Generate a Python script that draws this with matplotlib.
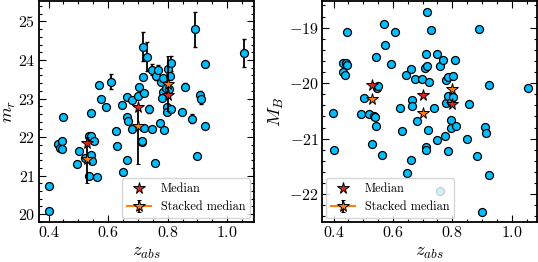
import numpy as np
import matplotlib
matplotlib.use("Agg")
import matplotlib.pyplot as plt
from matplotlib.ticker import MultipleLocator

plt.rcParams['font.family'] = 'serif'
plt.rcParams['font.serif'] = ['cmr10']
plt.rcParams['mathtext.fontset'] = 'cm'
plt.rcParams['axes.formatter.use_mathtext'] = True

# ---- Left panel data: z_abs vs m_r ----
z_left = [0.400, 0.403, 0.433, 0.437, 0.444, 0.444, 0.450, 0.494, 0.503, 0.524,
          0.536, 0.542, 0.542, 0.547, 0.536, 0.552, 0.544, 0.564, 0.570, 0.576,
          0.594, 0.610, 0.628, 0.630, 0.647, 0.649, 0.662, 0.664, 0.667, 0.663,
          0.679, 0.681, 0.700, 0.704, 0.714, 0.714, 0.717, 0.717, 0.720, 0.720,
          0.731, 0.738, 0.747, 0.749, 0.756, 0.761, 0.769, 0.776, 0.779, 0.783,
          0.784, 0.781, 0.787, 0.796, 0.797, 0.798, 0.802, 0.806, 0.807, 0.810,
          0.811, 0.847, 0.857, 0.883, 0.892, 0.900, 0.909, 0.912, 0.924, 0.924,
          1.057]
m_r = [20.73, 20.08, 21.83, 21.72, 21.90, 21.68, 22.52, 21.30, 21.63, 21.47,
       22.02, 22.02, 21.54, 21.37, 20.98, 21.90, 22.63, 20.97, 23.36, 23.00,
       22.78, 23.44, 22.15, 21.76, 22.84, 21.09, 23.05, 22.52, 22.41, 21.41,
       22.96, 22.20, 23.06, 23.29, 21.87, 21.91, 23.56, 24.35, 23.14, 22.24,
       24.09, 22.73, 23.75, 22.20, 21.33, 23.59, 23.75, 22.36, 23.42, 23.17,
       23.53, 23.02, 22.19, 23.28, 22.78, 22.66, 23.77, 23.25, 23.59, 23.91,
       22.72, 22.66, 23.31, 22.48, 24.80, 21.52, 23.09, 22.99, 23.89, 22.28,
       24.18]
m_r_err = [0, 0, 0, 0, 0, 0, 0, 0, 0, 0,
           0, 0, 0, 0, 0, 0, 0, 0, 0, 0,
           0, 0.20, 0.06, 0, 0, 0, 0.08, 0, 0, 0,
           0, 0, 0, 0, 0, 0, 0.08, 0.37, 0, 0,
           0.37, 0.10, 0.15, 0, 0, 0.10, 0.12, 0, 0.08, 0,
           0, 0, 0, 0.06, 0, 0, 0, 0, 0.10, 0.20,
           0, 0, 0.10, 0.12, 0.45, 0, 0.10, 0.12, 0, 0,
           0.37]

# ---- Right panel data: z_abs vs M_B ----
z_right = [0.398, 0.400, 0.432, 0.442, 0.445, 0.433, 0.440, 0.447, 0.501, 0.492,
           0.521, 0.530, 0.537, 0.540, 0.543, 0.542, 0.546, 0.549, 0.563, 0.569,
           0.574, 0.593, 0.608, 0.625, 0.630, 0.644, 0.662, 0.663, 0.665, 0.662,
           0.648, 0.676, 0.681, 0.699, 0.707, 0.714, 0.712, 0.716, 0.721, 0.728,
           0.711, 0.712, 0.719, 0.737, 0.747, 0.748, 0.759, 0.767, 0.775, 0.778,
           0.780, 0.784, 0.786, 0.786, 0.794, 0.796, 0.796, 0.803, 0.804, 0.810,
           0.813, 0.848, 0.856, 0.883, 0.890, 0.899, 0.911, 0.912, 0.922, 0.922,
           1.055, 0.757]
M_B = [-20.53, -21.21, -19.64, -19.64, -19.67, -19.79, -19.85, -19.07, -20.27, -20.55,
       -20.55, -21.10, -20.59, -20.61, -20.77, -19.52, -20.09, -20.05, -21.30, -18.93,
       -19.32, -19.65, -19.08, -20.45, -20.87, -19.86, -19.75, -20.30, -20.41, -21.39,
       -21.62, -19.93, -20.69, -19.92, -19.72, -19.69, -19.48, -18.72, -19.97, -19.04,
       -21.15, -21.20, -20.85, -20.44, -19.47, -21.03, -19.69, -19.58, -20.96, -20.35,
       -19.95, -20.23, -19.88, -21.23, -20.34, -20.66, -20.80, -19.87, -20.25, -19.58,
       -20.77, -21.00, -20.38, -21.31, -19.02, -22.32, -20.79, -20.89, -20.04, -21.65,
       -20.08, -21.94]

# ---- Medians ----
z_med = [0.53, 0.70, 0.80]
m_r_median = [21.84, 22.78, 23.08]
m_r_stacked = [21.42, 22.28, 23.38]
m_r_stacked_err_lo = [0.62, 0.97, 0.69]
m_r_stacked_err_hi = [0.58, 0.50, 0.73]
M_B_median = [-20.03, -20.21, -20.38]
M_B_stacked = [-20.28, -20.54, -20.10]

blue = '#00BFFF'
red = '#d62728'
orange = '#ff7f0e'

fig = plt.figure(figsize=(5.38, 2.62), dpi=100)
axL = fig.add_axes([0.072, 0.153, 0.400, 0.843])
axR = fig.add_axes([0.599, 0.153, 0.399, 0.843])


def style(ax):
    ax.tick_params(which='both', direction='in', top=True, right=True,
                   labelsize=11.5, width=0.8, pad=2.5)
    ax.tick_params(which='major', length=5)
    ax.tick_params(which='minor', length=2.5)
    ax.xaxis.set_major_locator(MultipleLocator(0.2))
    ax.xaxis.set_minor_locator(MultipleLocator(0.05))
    ax.yaxis.set_major_locator(MultipleLocator(1))
    ax.yaxis.set_minor_locator(MultipleLocator(0.2))
    for s in ax.spines.values():
        s.set_linewidth(1.3)


MS_STAR = 8.5
# Left panel
axL.errorbar(z_left, m_r, yerr=m_r_err, fmt='none', ecolor='k', elinewidth=1.3,
             capsize=1.5, capthick=1.0, zorder=2)
axL.scatter(z_left, m_r, s=33, c=blue, edgecolors='k', linewidths=0.9, zorder=3)
axL.errorbar(z_med, m_r_stacked, yerr=[m_r_stacked_err_lo, m_r_stacked_err_hi],
             fmt='*', color=orange, mec='k', mew=0.7, ms=MS_STAR, ecolor='k',
             elinewidth=1.3, capsize=1.5, zorder=4)
axL.plot(z_med, m_r_median, '*', color=red, mec='k', mew=0.7, ms=MS_STAR, zorder=5)
# legend handles
hM, = axL.plot([np.nan], [np.nan], '*', color=red, mec='k', mew=0.7, ms=MS_STAR, label='Median')
hS = axL.errorbar([np.nan], [np.nan], yerr=[1], fmt='*-', color=orange, mec='k',
                  mew=0.7, ms=MS_STAR, ecolor='k', elinewidth=1.3, capsize=1.5,
                  label='Stacked median')
axL.legend(handles=[hM, hS], loc='lower right', fontsize=8.8, handlelength=2.0,
           borderaxespad=0.3, handletextpad=0.8)
axL.set_xlim(0.367, 1.09)
axL.set_ylim(19.80, 25.53)
axL.set_xlabel(r'$z_{abs}$', fontsize=13.5, labelpad=2)
axL.set_ylabel(r'$m_r$', fontsize=13)
axL.yaxis.set_label_coords(-0.095, 0.5)
style(axL)

# Right panel
axR.scatter(z_right, M_B, s=33, c=blue, edgecolors='k', linewidths=0.9, zorder=3)
axR.plot(z_med, M_B_stacked, '*', color=orange, mec='k', mew=0.7, ms=MS_STAR, zorder=4)
axR.plot(z_med, M_B_median, '*', color=red, mec='k', mew=0.7, ms=MS_STAR, zorder=5)
hM2, = axR.plot([np.nan], [np.nan], '*', color=red, mec='k', mew=0.7, ms=MS_STAR, label='Median')
hS2 = axR.errorbar([np.nan], [np.nan], yerr=[1], fmt='*-', color=orange, mec='k',
                   mew=0.7, ms=MS_STAR, ecolor='k', elinewidth=1.3, capsize=1.5,
                   label='Stacked median')
lg = axR.legend(handles=[hM2, hS2], loc='lower left', fontsize=8.8, handlelength=2.0,
                borderaxespad=0.3, handletextpad=0.8)
lg.set_zorder(10)
axR.set_xlim(0.362, 1.085)
axR.set_ylim(-22.5, -18.52)
axR.set_xlabel(r'$z_{abs}$', fontsize=13.5, labelpad=2)
axR.set_ylabel(r'$M_B$', fontsize=13.5)
axR.yaxis.set_label_coords(-0.17, 0.5)
style(axR)

fig.savefig('out.png', dpi=100)
